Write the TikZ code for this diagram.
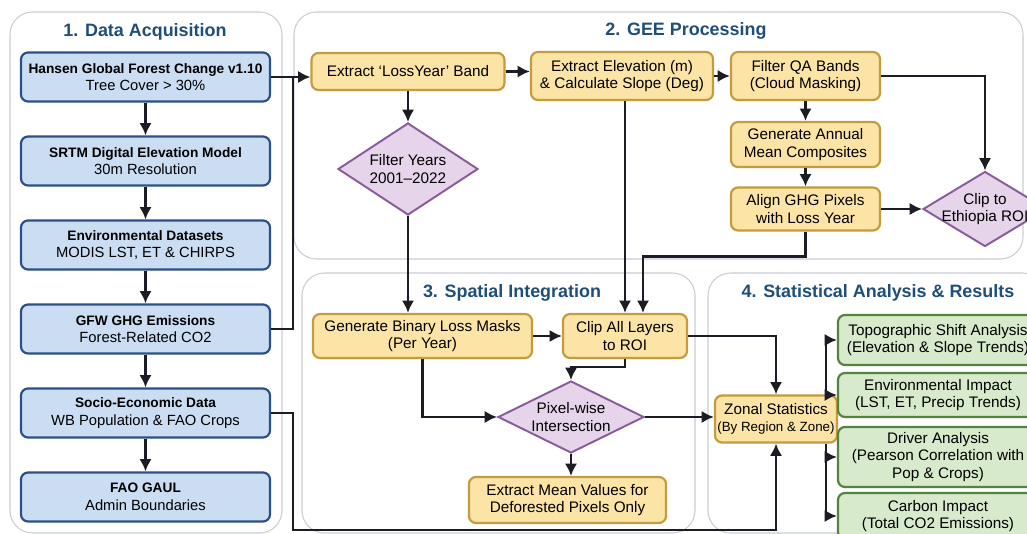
\documentclass[tikz,border=0pt]{standalone}
\usepackage{fontspec}
\setmainfont{Liberation Sans}
\usetikzlibrary{shapes.geometric,arrows.meta}

\definecolor{srcFill}{HTML}{CADDF3}
\definecolor{srcLine}{HTML}{2C5085}
\definecolor{procFill}{HTML}{FBE4A6}
\definecolor{procLine}{HTML}{C49B3E}
\definecolor{decFill}{HTML}{E6D4EA}
\definecolor{decLine}{HTML}{8A5A9C}
\definecolor{resFill}{HTML}{D7EACB}
\definecolor{resLine}{HTML}{54833F}
\definecolor{titleBlue}{HTML}{1F4E79}
\definecolor{panelLine}{HTML}{C9CDD4}
\definecolor{wire}{HTML}{1C1C24}

\newcommand{\boxfont}{\fontsize{8.7}{10}\selectfont}
\newcommand{\srctext}[2]{{\fontsize{7.8}{10}\selectfont\bfseries #1}\\{\fontsize{8.4}{10}\selectfont #2}}

\tikzset{
	panel/.style={draw=panelLine, line width=0.6pt, rounded corners=0.45cm, fill=white},
	paneltitle/.style={font=\fontsize{10.2}{12}\selectfont\bfseries, text=titleBlue},
	srcbox/.style={draw=srcLine, fill=srcFill, line width=1.25pt, rounded corners=4pt,
		minimum width=4.98cm, minimum height=0.98cm, align=center, inner sep=1pt},
	procbox/.style={draw=procLine, fill=procFill, line width=1.25pt, rounded corners=4pt,
		align=center, inner sep=1pt},
	decision/.style={diamond, draw=decLine, fill=decFill, line width=1.1pt, align=center,
		inner sep=-2pt, aspect=1.7},
	resultbox/.style={draw=resLine, fill=resFill, line width=1.25pt, rounded corners=4pt,
		minimum width=4cm, align=center, inner sep=1pt},
	arr/.style={draw=wire, line width=1.35pt, -{Latex[length=7pt,width=7pt]}},
	link/.style={draw=wire, line width=1.35pt},
}

\begin{document}
\begin{tikzpicture}[every node/.style={font=\boxfont}]
	\useasboundingbox (0,0) rectangle (20.54,-10.68);
	% the four stage panels
	\draw[panel] (0.2,-0.24) rectangle (5.64,-10.66);
	\draw[panel] (5.88,-0.24) rectangle (20.46,-5.18);
	\draw[panel] (6.04,-5.46) rectangle (13.9,-10.66);
	\draw[panel] (14.16,-5.46) rectangle (20.9,-10.66);
	\node[paneltitle] (title1) at (2.9,-0.64) {1. Data Acquisition};
	\node[paneltitle] (title2) at (13.72,-0.62) {2. GEE Processing};
	\node[paneltitle] (title3) at (10.24,-5.86) {3. Spatial Integration};
	\node[paneltitle] (title4) at (17.56,-5.86) {4. Statistical Analysis \& Results};

	% data sources
	\node[srcbox] (hansen) at (2.91,-1.54) {\srctext{Hansen Global Forest Change v1.10}{Tree Cover > 30\%}};
	\node[srcbox] (srtm) at (2.91,-3.22) {\srctext{SRTM Digital Elevation Model}{30m Resolution}};
	\node[srcbox] (envdata) at (2.91,-4.9) {\srctext{Environmental Datasets}{MODIS LST, ET \& CHIRPS}};
	\node[srcbox] (gfw) at (2.91,-6.58) {\srctext{GFW GHG Emissions}{Forest-Related CO2}};
	\node[srcbox] (socio) at (2.91,-8.26) {\srctext{Socio-Economic Data}{WB Population \& FAO Crops}};
	\node[srcbox] (gaul) at (2.91,-9.94) {\srctext{FAO GAUL}{Admin Boundaries}};

	% GEE processing
	\node[procbox, minimum width=3.86cm, minimum height=0.74cm] (lossyear) at (8.16,-1.43) {Extract `LossYear' Band};
	\node[procbox, minimum width=3.64cm, minimum height=0.96cm] (elev) at (12.44,-1.52) {Extract Elevation (m)\\\& Calculate Slope (Deg)};
	\node[procbox, minimum width=2.98cm, minimum height=0.96cm] (qaband) at (16.11,-1.52) {Filter QA Bands\\(Cloud Masking)};
	\node[procbox, minimum width=2.98cm, minimum height=0.9cm] (annual) at (16.11,-2.89) {Generate Annual\\Mean Composites};
	\node[procbox, minimum width=2.98cm, minimum height=0.86cm] (align) at (16.11,-4.18) {Align GHG Pixels\\with Loss Year};
	\node[decision, minimum width=2.48cm, minimum height=1.5cm] (clipeth) at (19.7,-4.18) {Clip to\\Ethiopia ROI};
	\node[decision, minimum width=2.8cm, minimum height=1.84cm] (years) at (8.16,-3.38) {Filter Years\\2001--2022};

	% spatial integration
	\node[procbox, minimum width=4.38cm, minimum height=0.88cm] (binary) at (8.45,-6.72) {Generate Binary Loss Masks\\(Per Year)};
	\node[procbox, minimum width=2.48cm, minimum height=0.88cm] (clipall) at (12.5,-6.72) {Clip All Layers\\to ROI};
	\node[decision, minimum width=2.92cm, minimum height=1.44cm] (pixel) at (11.42,-8.34) {Pixel-wise\\Intersection};
	\node[procbox, minimum width=3.94cm, minimum height=0.92cm] (meanval) at (11.35,-10.0) {Extract Mean Values for\\Deforested Pixels Only};

	% statistics and results
	\node[procbox, minimum width=2.44cm, minimum height=0.94cm] (zonal) at (15.52,-8.38) {Zonal Statistics\\{\fontsize{7.6}{9}\selectfont (By Region \& Zone)}};
	\node[resultbox, minimum height=1.0cm] (topo) at (18.76,-6.8) {Topographic Shift Analysis\\(Elevation \& Slope Trends)};
	\node[resultbox, minimum height=0.88cm] (envimp) at (18.76,-7.9) {Environmental Impact\\(LST, ET, Precip Trends)};
	\node[resultbox, minimum height=1.2cm] (driver) at (18.76,-9.14) {Driver Analysis\\(Pearson Correlation with\\Pop \& Crops)};
	\node[resultbox, minimum height=0.92cm] (carbon) at (18.76,-10.32) {Carbon Impact\\(Total CO2 Emissions)};

	% source column
	\draw[arr] (hansen) -- (srtm);
	\draw[arr] (srtm) -- (envdata);
	\draw[arr] (envdata) -- (gfw);
	\draw[arr] (gfw) -- (socio);
	\draw[arr] (socio) -- (gaul);

	% feeds into GEE
	\coordinate (join) at (5.86,-1.54);
	\coordinate (busL) at (5.86,-10.6);
	\draw[arr] (hansen.east) -- (hansen.east -| lossyear.west);
	\draw[link] (gfw.east) -| (join);
	\draw[arr] (socio.east) -| (busL) -| (zonal.south);

	\draw[arr] (lossyear.east) -- (lossyear.east -| elev.west);
	\draw[arr] (lossyear) -- (years);
	\draw[arr] (elev) -- (qaband);
	\draw[arr] (qaband.east) -| (clipeth.north);
	\draw[arr] (qaband) -- (annual);
	\draw[arr] (annual) -- (align);
	\draw[arr] (align) -- (clipeth);

	% down into integration
	\draw[arr] (years) -- (years |- binary.north);
	\draw[arr] (elev.south -| clipall.north) -- (clipall.north);
	\draw[arr] (align.south) -- ++(0,-0.5) -| ([xshift=0.36cm]clipall.north);
	\draw[arr] (binary) -- (clipall);
	\draw[arr] (clipall.south) -- ++(0,-0.16) -| (pixel.north);
	\draw[arr] (binary.south) |- (pixel.west);
	\draw[arr] (pixel.east) -- (pixel.east -| zonal.west);
	\draw[arr] (pixel) -- (pixel |- meanval.north);
	\draw[arr] (clipall.east) -| (zonal.north);

	% fan out to the results
	\coordinate (bus) at ([xshift=-0.24cm]zonal.east);
	\draw[arr] (bus |- zonal.north) |- (topo.west);
	\draw[arr] (bus |- zonal.north) |- (envimp.west);
	\draw[arr] (bus |- zonal.south) |- (driver.west);
	\draw[arr] (bus |- zonal.south) |- (carbon.west);
\end{tikzpicture}
\end{document}
